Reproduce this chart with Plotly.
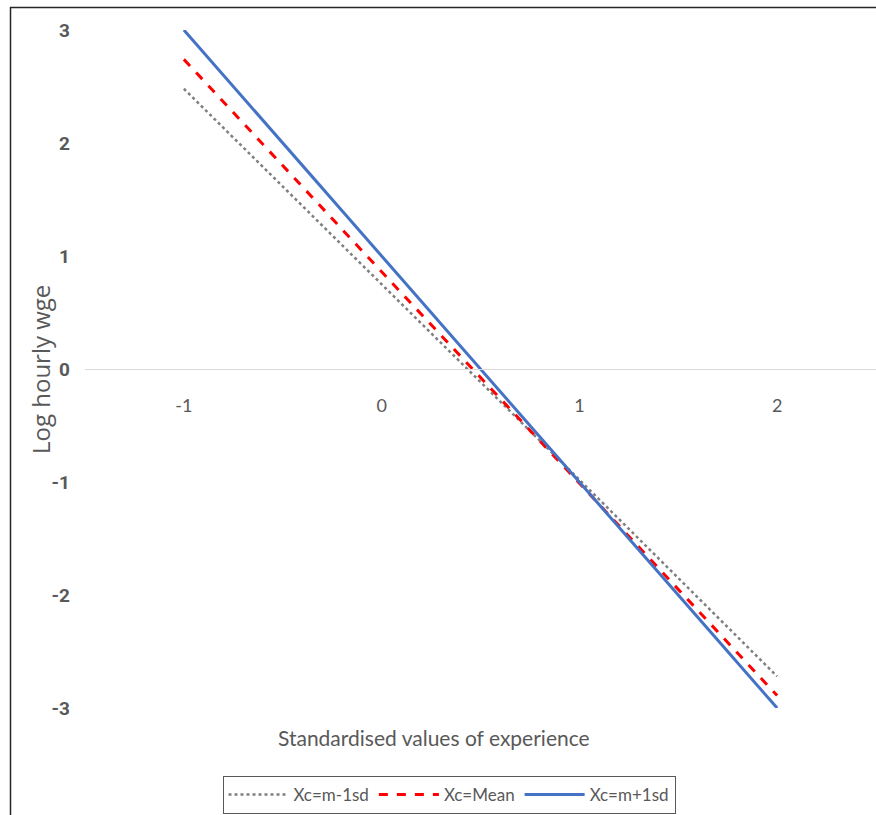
import plotly.graph_objects as go

# Standardised experience values at which the simple slopes are evaluated
experience = [-1, 0, 1, 2]

# Predicted log hourly wage for each moderator level
wage_minus_1sd = [2.48, 0.75, -0.98, -2.72]
wage_mean = [2.74, 0.86, -1.01, -2.89]
wage_plus_1sd = [3.00, 1.00, -1.00, -3.00]

series_names = ["Xc=m-1sd", "Xc=Mean", "Xc=m+1sd"]
y_ticks = [-3, -2, -1, 0, 1, 2, 3]
x_ticks = [-1, 0, 1, 2]

fig = go.Figure()
fig.add_trace(go.Scatter(
    x=experience, y=wage_minus_1sd, mode="lines", name=series_names[0],
    line=dict(color="#7f7f7f", width=2.5, dash="dot"),
))
fig.add_trace(go.Scatter(
    x=experience, y=wage_mean, mode="lines", name=series_names[1],
    line=dict(color="#ff0000", width=3, dash="dash"),
))
fig.add_trace(go.Scatter(
    x=experience, y=wage_plus_1sd, mode="lines", name=series_names[2],
    line=dict(color="#4472c4", width=3),
))

L, T, B = 85, 30, 107
W, H = 876, 815
pw, ph = W - L, H - T - B

def px_x(p):
    return (p - L) / pw

def px_y(p):
    return (H - B - p) / ph

fig.update_layout(
    width=W, height=H,
    margin=dict(l=L, r=0, t=T, b=B),
    paper_bgcolor="white", plot_bgcolor="white",
    font=dict(family="Lato, sans-serif", color="#595959"),
    showlegend=True,
    legend=dict(
        orientation="h", x=px_x(449), xanchor="center", y=px_y(776), yanchor="top",
        bordercolor="#595959", borderwidth=1, bgcolor="white",
        font=dict(family="Lato, sans-serif", size=17, color="#595959"),
        itemwidth=60, tracegroupgap=0,
    ),
    xaxis=dict(
        range=[-1.5, 2.5], tickvals=x_ticks, ticktext=[str(v) for v in x_ticks],
        anchor="free", position=0.5, showline=True, linecolor="#d9d9d9", linewidth=1,
        showgrid=False, zeroline=False, ticks="",
        ticklabelstandoff=20,
        tickfont=dict(family="Lato, sans-serif", size=18, color="#595959"),
    ),
    yaxis=dict(
        range=[-3, 3], tickvals=y_ticks, ticktext=[str(v) for v in y_ticks],
        showline=False, showgrid=False, zeroline=False, ticks="",
        ticklabelstandoff=14,
        tickfont=dict(family="Roboto, sans-serif", size=19, color="#595959", weight="bold"),
    ),
    annotations=[
        dict(text="Standardised values of experience", xref="paper", yref="paper",
             x=px_x(434), y=px_y(737), xanchor="center", yanchor="middle",
             showarrow=False, font=dict(family="Lato, sans-serif", size=21, color="#595959")),
        dict(text="Log hourly wge", xref="paper", yref="paper",
             x=px_x(40), y=px_y(370), xanchor="center", yanchor="middle", textangle=-90,
             showarrow=False, font=dict(family="Open Sans, sans-serif", size=24, color="#595959")),
    ],
    shapes=[
        dict(type="line", xref="paper", yref="paper", x0=px_x(10), x1=px_x(W + 5),
             y0=px_y(7.5), y1=px_y(7.5), line=dict(color="#262626", width=1.5)),
        dict(type="line", xref="paper", yref="paper", x0=px_x(10.5), x1=px_x(10.5),
             y0=px_y(7), y1=px_y(H + 5), line=dict(color="#262626", width=1.5)),
    ],
)

fig.write_html("out.html")
